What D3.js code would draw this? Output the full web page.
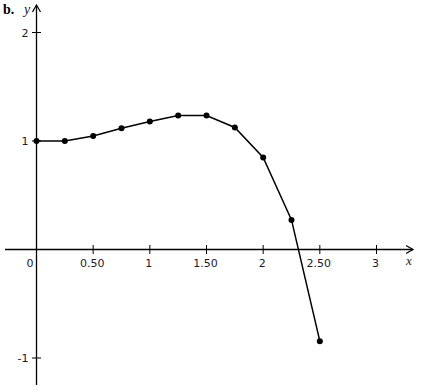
<!DOCTYPE html>
<html><head><meta charset="utf-8">
<script src="https://cdn.jsdelivr.net/npm/d3@7"></script>
<style>html,body{margin:0;padding:0;background:#fff;}svg{display:block;}</style>
</head><body>
<svg id="c" width="422" height="392"></svg>
<script>
const xValues = [0, 0.25, 0.5, 0.75, 1, 1.25, 1.5, 1.75, 2, 2.25, 2.5];
const yValues = [1.0, 1.0, 1.047, 1.118, 1.18, 1.235, 1.235, 1.125, 0.849, 0.273, -0.845];
const xTicks = [0.5, 1, 1.5, 2, 2.5, 3];
const xTickLabels = ["0.50", "1", "1.50", "2", "2.50", "3"];
const yTicks = [-1, 1, 2];
const yTickLabels = ["-1", "1", "2"];

const svg = d3.select("#c");
const x = d3.scaleLinear().domain([0, 3]).range([36.5, 376.5]);
const y = d3.scaleLinear().domain([-1, 2]).range([358, 32.5]);
const x0 = x(0), y0 = y(0);
const txt = "#1a1a2e";

// axes
svg.append("line").attr("x1", 5).attr("x2", 413).attr("y1", y0).attr("y2", y0).attr("stroke", "#000").attr("stroke-width", 1.3);
svg.append("line").attr("x1", x0).attr("x2", x0).attr("y1", 6).attr("y2", 385).attr("stroke", "#000").attr("stroke-width", 1.3);
// arrows
svg.append("path").attr("d", `M${x0-4},${12} L${x0},${5} L${x0+4},${12}`).attr("fill", "none").attr("stroke", "#000").attr("stroke-width", 1.2);
svg.append("path").attr("d", `M${406},${y0-4} L${413},${y0} L${406},${y0+4}`).attr("fill", "none").attr("stroke", "#000").attr("stroke-width", 1.2);

// x ticks
xTicks.forEach((t, i) => {
  svg.append("line").attr("x1", x(t)).attr("x2", x(t)).attr("y1", y0 - 4.5).attr("y2", y0 + 4.5).attr("stroke", "#000");
  svg.append("text").attr("x", x(t) - 1).attr("y", y0 + 17).attr("text-anchor", "middle")
    .attr("font-family", "DejaVu Sans").attr("font-size", 11).attr("fill", txt).text(xTickLabels[i]);
});
// y ticks
yTicks.forEach((t, i) => {
  svg.append("line").attr("x1", x0 - 4.5).attr("x2", x0 + 4.5).attr("y1", y(t)).attr("y2", y(t)).attr("stroke", "#000");
  svg.append("text").attr("x", x0 - 8).attr("y", y(t) + 4).attr("text-anchor", "end")
    .attr("font-family", "DejaVu Sans").attr("font-size", 11).attr("fill", txt).text(yTickLabels[i]);
});
// origin label
svg.append("text").attr("x", 30).attr("y", y0 + 17).attr("text-anchor", "middle")
  .attr("font-family", "DejaVu Sans").attr("font-size", 11).attr("fill", txt).text("0");

// axis names
svg.append("text").attr("x", 3).attr("y", 14).attr("font-family", "Liberation Serif").attr("font-weight", "bold").attr("font-size", 14).attr("fill", "#000").text("b.");
svg.append("text").attr("x", 24).attr("y", 14).attr("font-family", "Liberation Serif").attr("font-style", "italic").attr("font-size", 14).attr("fill", txt).text("y");
svg.append("text").attr("x", 409).attr("y", 265).attr("text-anchor", "middle").attr("font-family", "Liberation Serif").attr("font-style", "italic").attr("font-size", 13).attr("fill", txt).text("x");

// data
const pts = xValues.map((v, i) => [v, yValues[i]]);
svg.append("path").datum(pts)
  .attr("d", d3.line().x(d => x(d[0])).y(d => y(d[1])))
  .attr("fill", "none").attr("stroke", "#000").attr("stroke-width", 1.5);
svg.selectAll("circle.p").data(pts).enter().append("circle")
  .attr("cx", d => x(d[0])).attr("cy", d => y(d[1])).attr("r", 3).attr("fill", "#000");
</script>
</body></html>
